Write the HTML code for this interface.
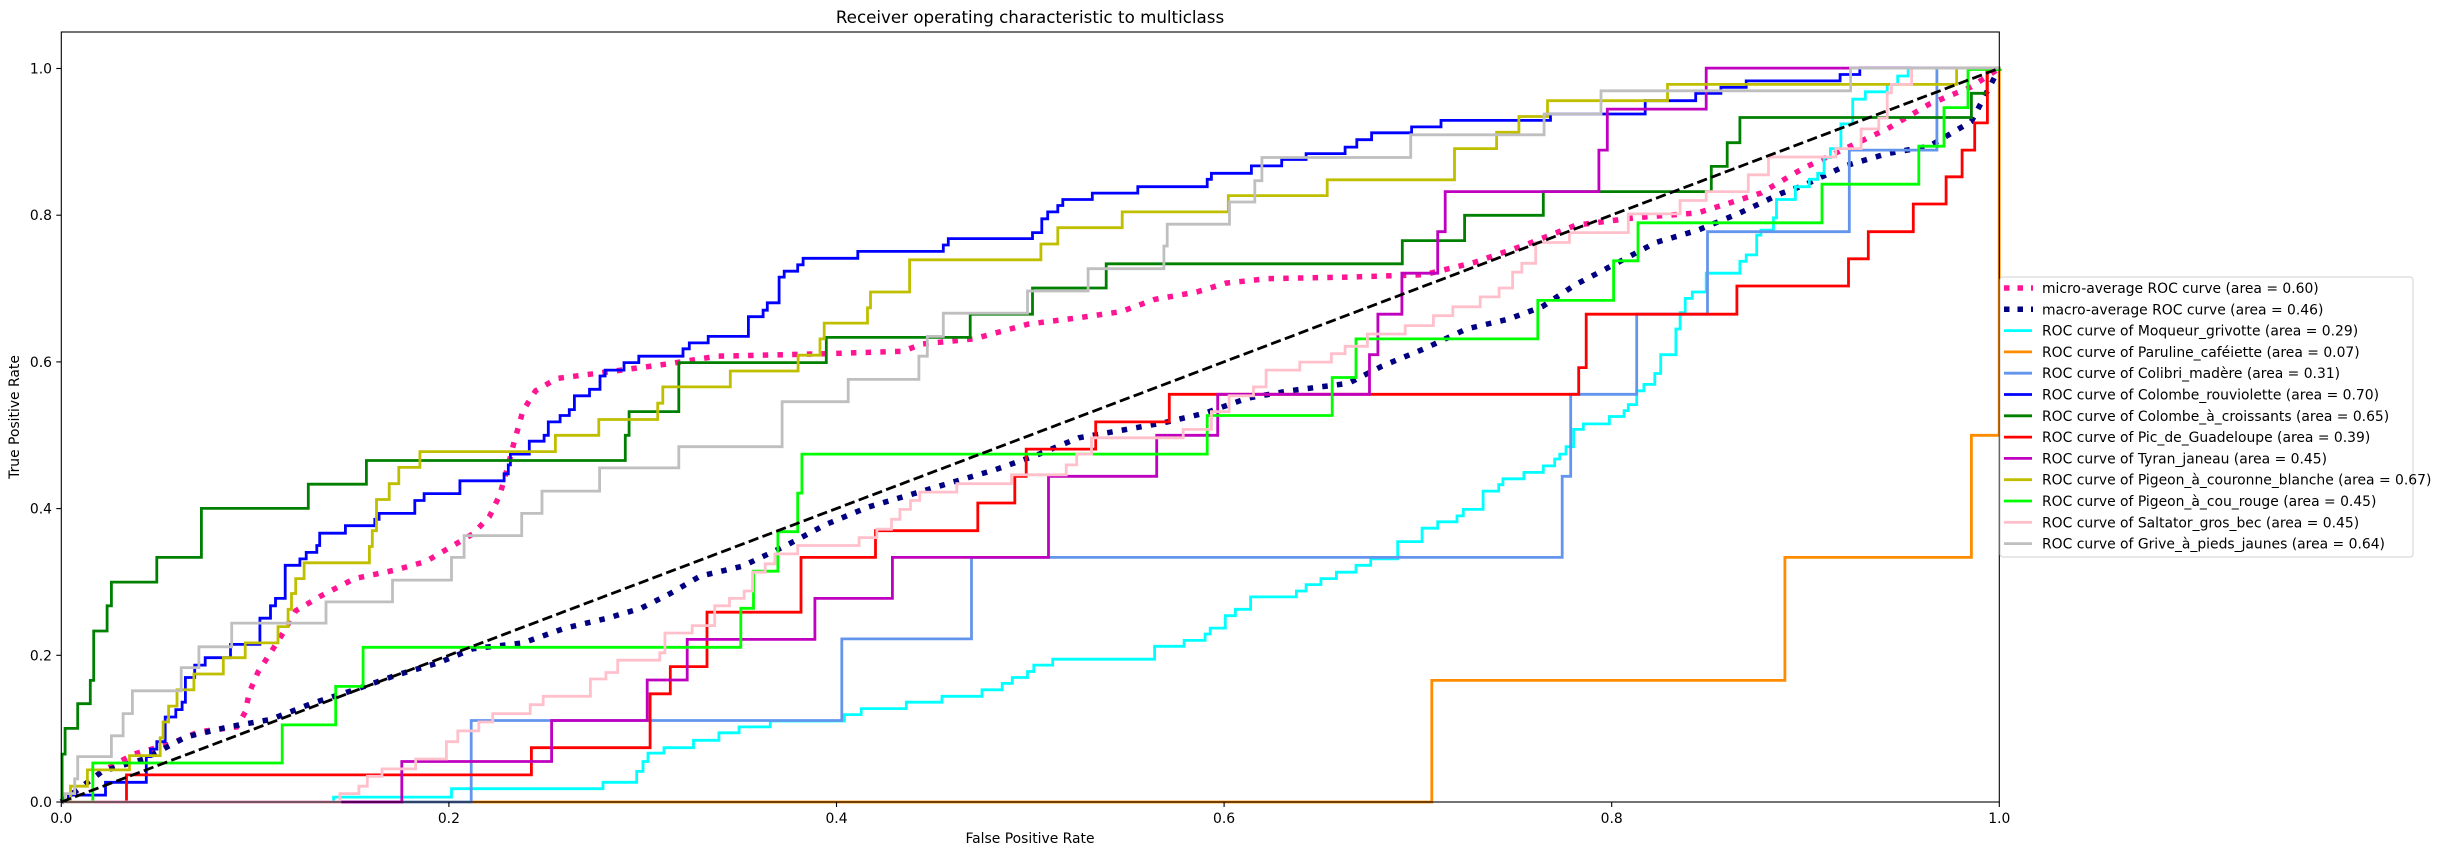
<!DOCTYPE html>
<html><head><meta charset="utf-8"><style>
html,body{margin:0;padding:0;background:#fff;}
svg text{font-family:"DejaVu Sans","Liberation Sans",sans-serif;fill:#000;}
</style></head><body>
<svg id="s" width="2455" height="855" xmlns="http://www.w3.org/2000/svg">
<rect width="2455" height="855" fill="#fff"/>
<g id="curves"></g>
<rect x="61.3" y="32" width="1938" height="770" fill="none" stroke="#000" stroke-width="1.1"/>
<g font-size="13.9" id="ticks"></g>
<text x="1030" y="23" font-size="16.7" text-anchor="middle">Receiver operating characteristic to multiclass</text>
<text x="1030" y="843" font-size="13.9" text-anchor="middle">False Positive Rate</text>
<text transform="translate(19,417) rotate(-90)" font-size="13.9" text-anchor="middle">True Positive Rate</text>
<rect x="2000" y="277" width="413" height="280" rx="3" fill="#fff" fill-opacity="0.8" stroke="#d0d0d0" stroke-width="1"/>
<g id="legend" font-size="13.9"></g>
</svg>
<script>
var OFF={7:60,8:700,9:1340};var FX=660/1568,FY=775/1568;
function R(z,x,y){return [OFF[z]+x*FX,30+y*FY];}
function stepPath(segs){var d='M61.3,802';segs.forEach(function(s){var z=s[0];s[1].forEach(function(p){var r=R(z,p[0],p[1]);d+=' H'+r[0].toFixed(1)+' V'+r[1].toFixed(1);});});d+=' H1999.3 V68.3';return d;}
function polyPath(segs){var d='M61.3,802';segs.forEach(function(s){var z=s[0];s[1].forEach(function(p){var r=R(z,p[0],p[1]);d+=' L'+r[0].toFixed(1)+','+r[1].toFixed(1);});});d+=' L1999.3,68.3';return d;}
var C={
green:[[7,[[5,1465],[12,1413],[42,1363],[72,1316],[80,1216],[112,1165],[122,1117],[230,1067],[336,968],[590,919],[728,871],[1343,820],[1352,772],[1470,673]]],[8,[[300,622],[642,575],[790,522],[965,473]]],[9,[[148,426],[296,375],[483,327],[882,276],[920,228],[950,177],[1500,128],[1537,80]]]],
blue:[[7,[[20,1548],[108,1522],[205,1470],[215,1455],[230,1440],[250,1390],[275,1375],[290,1360],[298,1310],[320,1285],[345,1270],[405,1243],[475,1190],[500,1165],[512,1150],[535,1083],[570,1070],[585,1057],[610,1043],[617,1018],[678,1003],[748,990],[758,978],[843,952],[865,938],[950,912],[1055,898],[1065,880],[1070,858],[1115,832],[1150,820],[1160,793],[1188,780],[1210,768],[1222,740],[1258,727],[1283,700],[1295,688],[1340,673],[1375,660],[1480,645],[1495,633],[1540,620]]],[8,[[115,580],[150,567],[160,552],[188,500],[200,488],[232,475],[245,462],[375,448],[578,435],[590,422],[790,410],[812,382],[826,368],[850,355],[862,343],[932,330],[1040,317],[1205,302],[1215,290],[1310,275],[1382,262],[1440,250]]],[9,[[12,237],[40,222],[75,208],[170,196],[240,183],[500,170],[725,143],[845,128],[905,116],[965,103],[1188,90],[1235,77]]]],
olive:[[7,[[25,1530],[65,1497],[165,1468],[238,1432],[245,1400],[258,1368],[278,1335],[318,1303],[388,1270],[440,1240],[518,1207],[542,1172],[550,1140],[560,1110],[580,1078],[735,1045],[742,1013],[752,950],[782,918],[805,885],[855,853],[1177,820],[1280,788],[1420,755],[1432,722]]],[8,[[72,690],[233,658],[285,625],[295,593],[398,562],[405,530],[498,465],[810,433],[850,400],[1003,368],[1255,335],[1490,303]]],[9,[[272,240],[372,207],[425,175],[493,143],[778,110],[1465,77]]]],
grey:[[7,[[12,1545],[35,1515],[42,1470],[122,1428],[150,1383],[172,1337],[288,1290],[330,1248],[408,1200],[632,1157],[790,1113],[930,1067],[960,1023],[1097,978],[1145,933],[1282,886],[1470,843]]],[8,[[195,752],[352,707],[520,660],[540,620],[578,573],[778,528],[922,483],[1102,437],[1110,393],[1258,348],[1318,305],[1335,258]]],[9,[[168,212],[485,170],[620,123],[1213,77]]]],
lime:[[7,[[78,1483],[528,1406],[655,1328],[720,1249]]],[8,[[97,1170],[127,1095],[185,1015],[232,937],[242,858],[1205,780],[1502,703]]],[9,[[38,625],[470,547],[650,467],[708,390],[1145,312],[1375,235],[1435,157],[1492,80]]]],
red:[[7,[[158,1507],[1120,1452],[1402,1343],[1450,1288],[1537,1178]]],[8,[[240,1067],[417,1013],[660,957],[748,903],[775,848],[940,793],[1115,737]]],[9,[[567,683],[585,575],[943,518],[1208,463],[1255,408],[1362,352],[1440,297],[1478,243],[1508,188],[1538,80]]]],
purple:[[7,[[812,1480],[1168,1397],[1395,1315],[1490,1233]]],[8,[[273,1150],[457,1067],[828,903],[1085,820],[1230,737]]],[9,[[70,657],[90,575],[147,492],[232,408],[250,327],[615,243],[635,160],[870,77]]]],
pink:[[7,[[665,1545],[710,1530],[730,1510],[765,1495],[845,1475],[918,1440],[945,1418],[995,1400],[1028,1383],[1117,1365],[1148,1348],[1260,1313],[1297,1300],[1325,1275],[1425,1260],[1437,1220],[1502,1205]]],[8,[[35,1165],[70,1150],[105,1135],[125,1097],[155,1080],[178,1060],[232,1043],[378,1027],[420,1010],[455,990],[475,970],[500,952],[522,935],[610,918],[740,900],[870,880],[895,858],[930,825],[1148,808],[1215,772],[1257,740],[1315,722],[1345,688],[1425,672],[1500,655]]],[9,[[12,640],[65,615],[155,598],[222,578],[268,560],[333,540],[378,522],[410,490],[432,472],[465,430],[545,410],[685,372],[808,345],[870,327],[970,293],[1018,257],[1178,240],[1238,200],[1280,178],[1300,127],[1310,110],[1358,77]]]],
corn:[[7,[[977,1397]]],[8,[[337,1232],[645,1067]]],[9,[[528,903],[548,737],[705,575],[873,408],[1210,243],[1418,77]]]],
cyan:[[7,[[650,1552],[930,1535],[1290,1522],[1370,1500],[1385,1480],[1397,1463],[1435,1452],[1505,1437]]],[8,[[45,1422],[93,1410],[167,1398],[343,1385],[383,1373],[490,1360],[575,1348],[670,1335],[718,1322],[742,1310],[778,1298],[793,1285],[838,1273],[1080,1247],[1150,1235],[1200,1222],[1212,1210],[1248,1185],[1272,1172],[1308,1147],[1417,1135],[1440,1122],[1475,1110],[1512,1097]]],[9,[[38,1083],[73,1070],[137,1035],[195,1008],[232,995],[278,983],[293,970],[340,933],[377,920],[387,908],[437,895],[483,882],[510,868],[522,858],[537,843],[555,808],[578,797],[640,782],[675,770],[685,758],[705,730],[722,717],[748,695],[762,657],[798,605],[808,572],[820,543],[837,530],[870,492],[950,468],[965,455],[990,415],[1000,405],[1030,380],[1037,343],[1082,317],[1115,302],[1135,290],[1150,258],[1165,240],[1190,190],[1218,140],[1248,125],[1300,110],[1325,93],[1350,77]]]],
orange:[[9,[[218,1316],[1057,1067],[1500,820],[1566,77]]]]
};
var micro=[[7,[[100,1500],[175,1465],[260,1445],[330,1420],[420,1410],[440,1380],[450,1340],[470,1300],[500,1260],[530,1220],[560,1175],[620,1145],[700,1110],[800,1092],[870,1075],[930,1045],[980,1020],[1020,985],[1045,940],[1065,880],[1080,830],[1100,770],[1130,730],[1180,705],[1300,692],[1450,675]]],[8,[[40,660],[300,655],[480,650],[530,635],[650,625],[780,595],[900,582],[1000,570],[1080,545],[1180,530],[1250,512],[1350,503],[1540,500]]],[9,[[200,495],[320,470],[440,435],[560,395],[700,380],[850,370],[1000,330],[1100,280],[1200,240],[1300,200],[1400,150],[1500,115]]]];
var macro=[[7,[[100,1500],[200,1475],[300,1430],[400,1410],[500,1395],[600,1362],[700,1335],[800,1305],[900,1280],[980,1252],[1100,1240],[1200,1210],[1300,1190],[1380,1170],[1450,1140]]],[8,[[0,1105],[100,1085],[200,1045],[300,1000],[400,965],[500,940],[600,915],[700,890],[800,860],[900,825],[1000,810],[1100,795],[1200,775],[1300,745],[1400,730],[1540,715]]],[9,[[100,680],[200,645],[300,605],[400,585],[480,560],[560,515],[650,475],[750,430],[850,405],[950,370],[1050,330],[1100,315],[1200,275],[1300,250],[1400,235],[1500,185]]]];
var col={cyan:'#00ffff',orange:'#ff8c00',corn:'#6495ed',blue:'#0000ff',green:'#008000',red:'#ff0000',purple:'#bf00bf',olive:'#bfbf00',lime:'#00ff00',pink:'#ffc0cb',grey:'#bfbfbf'};
var order=['cyan','orange','corn','blue','green','red','purple','olive','lime','pink','grey'];
var g='';
g+='<path d="'+polyPath(micro)+'" fill="none" stroke="#ff1493" stroke-width="5.5" stroke-dasharray="5.5 9.2"/>';
g+='<path d="'+polyPath(macro)+'" fill="none" stroke="#000080" stroke-width="5.5" stroke-dasharray="5.5 9.2"/>';
order.forEach(function(k){g+='<path d="'+stepPath(C[k])+'" fill="none" stroke="'+col[k]+'" stroke-width="2.8" stroke-linejoin="miter"/>';});
g+='<line x1="61.3" y1="802" x2="1999.3" y2="68.3" stroke="#000" stroke-width="2.8" stroke-dasharray="10.3 4.4"/>';
document.getElementById('curves').innerHTML=g;
var t='';
for(var i=0;i<=5;i++){var v=(i/5).toFixed(1);var x=61.3+i*387.6;var y=802-i*146.7;
t+='<line x1="'+x+'" y1="802" x2="'+x+'" y2="807" stroke="#000" stroke-width="1.1"/>';
t+='<text x="'+x+'" y="823" text-anchor="middle">'+v+'</text>';
t+='<line x1="56.3" y1="'+y+'" x2="61.3" y2="'+y+'" stroke="#000" stroke-width="1.1"/>';
t+='<text x="52" y="'+(y+5)+'" text-anchor="end">'+v+'</text>';}
document.getElementById('ticks').innerHTML=t;
var labels=[['micro-average ROC curve (area = 0.60)','#ff1493',1],['macro-average ROC curve (area = 0.46)','#000080',1],
['ROC curve of Moqueur_grivotte (area = 0.29)','#00ffff'],['ROC curve of Paruline_caféiette (area = 0.07)','#ff8c00'],
['ROC curve of Colibri_madère (area = 0.31)','#6495ed'],['ROC curve of Colombe_rouviolette (area = 0.70)','#0000ff'],
['ROC curve of Colombe_à_croissants (area = 0.65)','#008000'],['ROC curve of Pic_de_Guadeloupe (area = 0.39)','#ff0000'],
['ROC curve of Tyran_janeau (area = 0.45)','#bf00bf'],['ROC curve of Pigeon_à_couronne_blanche (area = 0.67)','#bfbf00'],
['ROC curve of Pigeon_à_cou_rouge (area = 0.45)','#00ff00'],['ROC curve of Saltator_gros_bec (area = 0.45)','#ffc0cb'],
['ROC curve of Grive_à_pieds_jaunes (area = 0.64)','#bfbfbf']];
var l='';
labels.forEach(function(a,i){var y=288+i*21.3;
if(a[2]){l+='<line x1="2004" y1="'+y+'" x2="2033" y2="'+y+'" stroke="'+a[1]+'" stroke-width="5.5" stroke-dasharray="5.5 8"/>';}
else{l+='<line x1="2004" y1="'+y+'" x2="2032" y2="'+y+'" stroke="'+a[1]+'" stroke-width="2.8"/>';}
l+='<text x="2042" y="'+(y+5)+'">'+a[0]+'</text>';});
document.getElementById('legend').innerHTML=l;
</script>
</body></html>
